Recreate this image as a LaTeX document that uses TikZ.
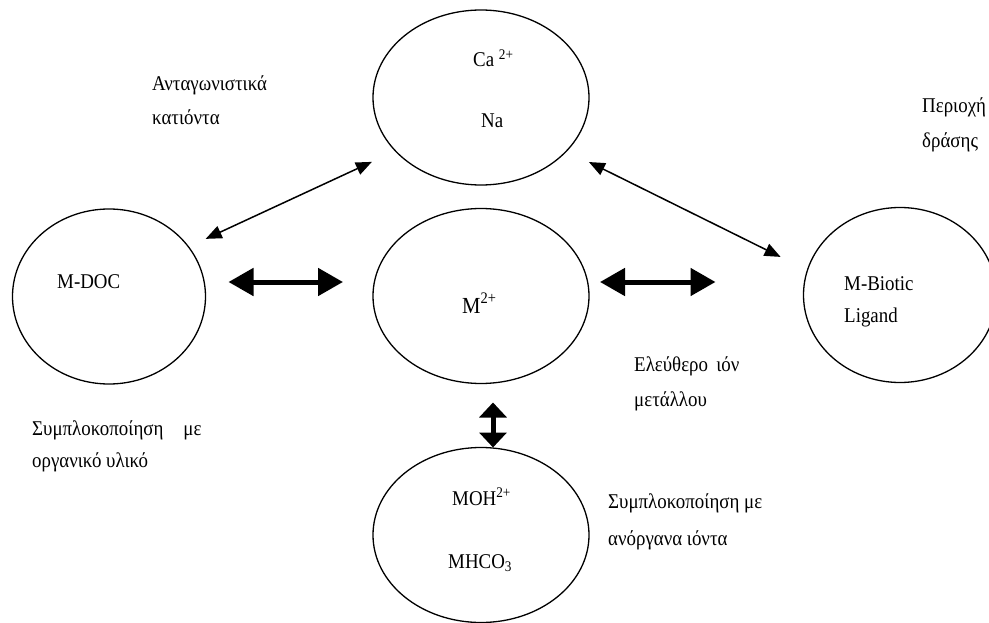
\documentclass[tikz,border=0pt]{standalone}
\usepackage{fontspec}
\setmainfont{Liberation Serif}[FakeStretch=0.9]
\usetikzlibrary{shapes.geometric,arrows.meta}

\begin{document}
\begin{tikzpicture}[
  x=1pt, y=-1pt,
  blob/.style={draw, ellipse, line width=1.3pt, minimum width=216pt, minimum height=175pt, inner sep=0pt, outer sep=0pt},
  narrowblob/.style={blob, minimum width=193pt},
  note/.style={anchor=base west, inner sep=0pt, align=left, font=\fontsize{21}{34}\selectfont},
  thinlink/.style={line width=1.5pt, <->, >={Triangle[length=16pt,width=13pt]}},
  thicklink/.style={line width=5pt, <->, >={Triangle[length=25pt,width=27pt]}},
  shortlink/.style={line width=5pt, <->, >={Triangle[length=15pt,width=27pt]}}
]
\useasboundingbox (0,0) rectangle (989,623);

% Ellipses
\node[blob] (cation) at (481,97.5) {};
\node[narrowblob] (mdoc) at (109,296.5) {};
\node[blob] (metal) at (481,296) {};
\node[narrowblob] (biotic) at (900,295) {};
\node[blob] (inorg) at (481,535) {};

% Texts inside the ellipses (anchor = baseline of the last line)
\node[note] (ca) at (473,67) {Ca \textsuperscript{2+}};
\node[note] (na) at (481,128) {Na};
\node[note] (mdoctxt) at (57,288) {M-DOC};
\node[note, font=\fontsize{23}{34}\selectfont] (mtxt) at (462,313) {M\textsuperscript{2+}};
\node[note] (bltxt) at (844,322) {M-Biotic\\[-2pt]Ligand};
\node[note] (moh) at (452,505) {MOH\textsuperscript{2+}};
\node[note] (mhco) at (448,568) {MHCO\textsubscript{3}};

% Side texts
\node[note] (compet) at (152,125) {Ανταγωνιστικά\\κατιόντα};
\node[note] (site) at (922,148) {Περιοχή\\[1pt]δράσης};
\node[note] (free) at (634,406) {Ελεύθερο\, ιόν\\[1pt]μετάλλου};
\node[note] (orgcx) at (32,467) {Συμπλοκοποίηση\hspace{20pt}με\\[-2pt]οργανικό υλικό};
\node[note] (inorgcx) at (608,545) {Συμπλοκοποίηση με\\[3pt]ανόργανα ιόντα};

% Thin arrows to the cations
\draw[thinlink, shorten <=19pt, shorten >=26pt] (mdoc.32) -- (cation.212);
\draw[thinlink, shorten <=25pt, shorten >=30pt] (cation.328) -- (biotic.165);

% Thick arrows round the free ion
\draw[thicklink, shorten <=23pt, shorten >=30pt] ([yshift=14.5pt]mdoc.east) -- ([yshift=14pt]metal.west);
\draw[thicklink, shorten <=11pt, shorten >=88pt] ([yshift=14pt]metal.east) -- ([yshift=13pt]biotic.west);
\draw[shortlink, shorten <=19pt] ([xshift=12pt]metal.south) -- ([xshift=12pt]inorg.north);

\end{tikzpicture}
\end{document}
